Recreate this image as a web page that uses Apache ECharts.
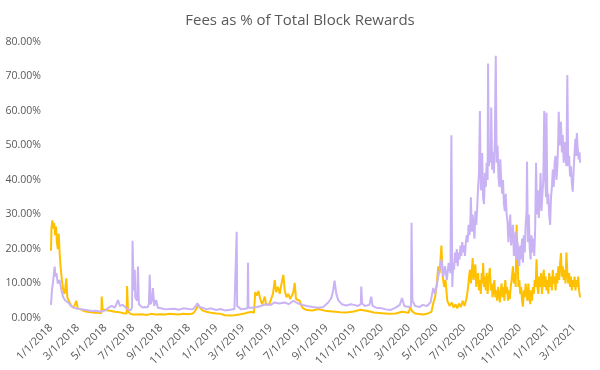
<!DOCTYPE html>
<html>
<head>
<meta charset="utf-8">
<script src="https://cdn.jsdelivr.net/npm/echarts@6/dist/echarts.min.js"></script>
<style>
html,body{margin:0;padding:0;background:#fff;}
#chart{width:600px;height:370px;}
</style>
</head>
<body>
<div id="chart"></div>
<script>
const chartTitle = 'Fees as % of Total Block Rewards';
const startDate = '2018-01-01';
const endDate = '2021-03-14';
const yTicks = [0, 10, 20, 30, 40, 50, 60, 70, 80];

// Gold series (fees as % of block rewards), [date, percent]
const goldSeries = [['2018-01-01',19.5],['2018-01-02',26],['2018-01-04',28.3],['2018-01-06',26],['2018-01-08',27.5],['2018-01-10',24],['2018-01-12',26.5],['2018-01-14',22],['2018-01-16',20],['2018-01-18',24.5],['2018-01-20',19],['2018-01-22',15],['2018-01-25',11],['2018-01-28',8],['2018-01-31',7],['2018-02-04',11.5],['2018-02-06',6],['2018-02-09',5],['2018-02-12',4.5],['2018-02-15',3.5],['2018-02-20',3],['2018-02-24',3.2],['2018-02-26',5],['2018-03-01',2.8],['2018-03-08',2.5],['2018-03-15',2],['2018-03-22',1.8],['2018-03-30',1.7],['2018-04-08',1.5],['2018-04-15',1.5],['2018-04-22',1.4],['2018-04-23',6.2],['2018-04-25',2.5],['2018-05-01',2.3],['2018-05-08',2.2],['2018-05-15',2],['2018-05-22',1.8],['2018-06-01',1.7],['2018-06-10',1.4],['2018-06-17',1.3],['2018-06-18',9.3],['2018-06-20',2],['2018-06-25',1.2],['2018-07-01',1],['2018-07-10',1],['2018-07-20',1.1],['2018-08-01',0.9],['2018-08-10',1.2],['2018-08-20',1],['2018-09-01',1.1],['2018-09-10',1],['2018-09-20',1.2],['2018-10-01',1.1],['2018-10-10',1],['2018-10-20',1.2],['2018-11-01',1.1],['2018-11-10',1.3],['2018-11-15',2],['2018-11-20',3.2],['2018-11-22',3.8],['2018-11-26',3],['2018-12-01',2.2],['2018-12-10',1.8],['2018-12-20',1.5],['2019-01-01',1.3],['2019-01-10',1.2],['2019-01-20',0.8],['2019-02-01',0.7],['2019-02-10',0.8],['2019-02-20',1],['2019-03-01',1.2],['2019-03-10',1.5],['2019-03-20',1.8],['2019-03-25',1.5],['2019-03-28',7.5],['2019-04-01',6.5],['2019-04-04',7.8],['2019-04-08',5.5],['2019-04-12',4],['2019-04-15',5],['2019-04-18',6.2],['2019-04-21',3.8],['2019-04-24',4.2],['2019-04-28',4],['2019-05-02',4.5],['2019-05-06',7],['2019-05-10',11],['2019-05-13',7.5],['2019-05-17',9],['2019-05-21',7],['2019-05-25',10],['2019-05-29',12.5],['2019-06-01',8],['2019-06-05',6],['2019-06-09',7],['2019-06-13',5.5],['2019-06-17',6.5],['2019-06-20',7.5],['2019-06-23',10.2],['2019-06-26',5.5],['2019-06-30',6],['2019-07-04',5],['2019-07-08',3.5],['2019-07-12',2.8],['2019-07-16',2.4],['2019-07-20',2.3],['2019-08-01',2.2],['2019-08-15',2.6],['2019-09-01',2],['2019-09-15',1.9],['2019-10-01',1.7],['2019-10-15',1.6],['2019-11-01',1.9],['2019-11-15',2.4],['2019-12-01',2],['2019-12-15',1.6],['2020-01-01',1.4],['2020-01-15',1.2],['2020-02-01',1.3],['2020-02-15',1.8],['2020-03-01',1.5],['2020-03-04',3.2],['2020-03-08',2],['2020-03-15',1.3],['2020-04-01',1],['2020-04-10',1.2],['2020-04-20',1.8],['2020-04-24',4.3],['2020-04-28',6],['2020-05-02',10],['2020-05-05',15],['2020-05-08',13],['2020-05-12',21],['2020-05-15',12],['2020-05-18',9],['2020-05-21',11],['2020-05-25',5],['2020-05-30',3.5],['2020-06-04',4.5],['2020-06-08',3],['2020-06-12',4],['2020-06-16',2.8],['2020-06-20',4.2],['2020-06-24',3.2],['2020-06-28',5],['2020-07-02',3.5],['2020-07-06',5.5],
['2020-07-08',7],['2020-07-10',9],['2020-07-12',12],['2020-07-14',14],['2020-07-16',10],['2020-07-18',13],['2020-07-20',17.4],['2020-07-22',11],['2020-07-24',14],['2020-07-26',15.5],['2020-07-28',9],['2020-07-30',12],['2020-08-01',13],['2020-08-03',8],['2020-08-05',11],['2020-08-07',7],['2020-08-09',13],['2020-08-11',10],['2020-08-12',15.9],['2020-08-14',9],['2020-08-16',12],['2020-08-18',8],['2020-08-20',13],['2020-08-22',7],['2020-08-24',11],['2020-08-27',14.5],['2020-08-29',8],['2020-08-31',10],['2020-09-02',6],['2020-09-04',9],['2020-09-06',11],['2020-09-08',6],['2020-09-10',8],['2020-09-12',5],['2020-09-14',9],['2020-09-16',7],['2020-09-18',4.5],['2020-09-20',8],['2020-09-22',10],['2020-09-24',6],['2020-09-26',9],['2020-09-28',5],['2020-09-30',11],['2020-10-02',7],['2020-10-04',9],['2020-10-06',5],['2020-10-08',8],['2020-10-10',5.5],['2020-10-12',9],['2020-10-14',11],['2020-10-17',15],['2020-10-19',10],['2020-10-21',13],['2020-10-23',9],['2020-10-25',27],['2020-10-27',18],['2020-10-29',9],['2020-10-31',11],['2020-11-02',7],['2020-11-04',9],['2020-11-06',5],['2020-11-08',3.3],['2020-11-10',8],['2020-11-12',6],['2020-11-14',10],['2020-11-16',7],['2020-11-18',5],['2020-11-20',10],['2020-11-22',6],['2020-11-24',4],['2020-11-26',8],['2020-11-28',5],['2020-11-30',9],['2020-12-02',7],['2020-12-04',11],['2020-12-06',9],['2020-12-08',17],['2020-12-10',9],['2020-12-12',7],['2020-12-14',12],['2020-12-16',9],['2020-12-18',13],['2020-12-20',7],['2020-12-22',11],['2020-12-24',14],['2020-12-26',9],['2020-12-28',12],['2020-12-30',8],['2021-01-01',11],['2021-01-03',7],['2021-01-05',13],['2021-01-07',9],['2021-01-09',12],['2021-01-11',8],['2021-01-13',14],['2021-01-15',10],['2021-01-17',12],['2021-01-19',8],['2021-01-21',13],['2021-01-23',10],['2021-01-25',15],['2021-01-27',11],['2021-01-29',16],['2021-01-31',18.8],['2021-02-02',12],['2021-02-04',15],['2021-02-06',11],['2021-02-08',14],['2021-02-10',10],['2021-02-12',19],['2021-02-14',13],['2021-02-16',10],['2021-02-18',13],['2021-02-20',9],['2021-02-22',12],['2021-02-24',8],['2021-02-26',11],['2021-02-28',9],['2021-03-02',12],['2021-03-04',8],['2021-03-06',11],['2021-03-08',9],['2021-03-10',12],['2021-03-12',8],['2021-03-14',6]];

// Lavender series (fees as % of block rewards), [date, percent]
const lavenderSeries = [['2018-01-01',3.8],['2018-01-03',8],['2018-01-06',11],['2018-01-09',14.9],['2018-01-11',12],['2018-01-13',13],['2018-01-16',10],['2018-01-20',11],['2018-01-24',8],['2018-01-28',6],['2018-02-02',5],['2018-02-08',4.5],['2018-02-14',3.5],['2018-02-20',3],['2018-02-28',2.7],['2018-03-10',2.5],['2018-03-20',2.3],['2018-04-01',2],['2018-04-10',2.1],['2018-04-20',1.8],['2018-05-01',2.2],['2018-05-08',3],['2018-05-15',3.5],['2018-05-22',3],['2018-05-29',5.2],['2018-06-02',3.5],['2018-06-08',3.8],['2018-06-14',3.2],['2018-06-20',2.5],['2018-06-26',2.2],['2018-06-29',3],['2018-06-30',22.4],['2018-07-02',12],['2018-07-03',8],['2018-07-05',14],['2018-07-06',6],['2018-07-10',5],['2018-07-12',14.9],['2018-07-14',4],['2018-07-18',3.5],['2018-07-22',3],['2018-07-27',3.2],['2018-08-02',3],['2018-08-05',4],['2018-08-07',12.5],['2018-08-09',4],['2018-08-12',5],['2018-08-14',8.7],['2018-08-17',3.5],['2018-08-21',5.2],['2018-08-25',3],['2018-09-01',2.8],['2018-09-10',2.5],['2018-09-20',2.6],['2018-10-01',2.7],['2018-10-10',2.4],['2018-10-20',2.8],['2018-11-01',2.6],['2018-11-10',2.5],['2018-11-17',3.5],['2018-11-20',4.3],['2018-11-25',3.2],['2018-12-01',3],['2018-12-10',2.5],['2018-12-20',2.8],['2019-01-01',2.3],['2019-01-10',2.6],['2019-01-20',2.2],['2019-02-01',2.4],['2019-02-10',2.6],['2019-02-14',2.8],['2019-02-15',25],['2019-02-16',3.5],['2019-02-25',2.5],['2019-03-05',2.7],['2019-03-11',2.8],['2019-03-12',16],['2019-03-13',3],['2019-03-20',3],['2019-04-01',3.2],['2019-04-10',3.5],['2019-04-20',4],['2019-05-01',3.8],['2019-05-10',4.5],['2019-05-20',4.2],['2019-06-01',4.5],['2019-06-10',4],['2019-06-20',5],['2019-07-01',4.2],['2019-07-10',3.8],['2019-07-20',3.5],['2019-08-01',3.2],['2019-08-15',3],['2019-08-25',3.2],['2019-09-05',4.5],['2019-09-12',5.8],['2019-09-16',8],['2019-09-19',10.8],['2019-09-23',7],['2019-09-27',5.2],['2019-10-05',4],['2019-10-15',3.6],['2019-10-25',4],['2019-11-01',3.8],['2019-11-10',3.5],['2019-11-16',4],['2019-11-17',9.1],['2019-11-19',4.2],['2019-11-25',3.5],['2019-12-05',3.8],['2019-12-09',6.2],['2019-12-12',3.5],['2019-12-20',3],['2020-01-01',2.8],['2020-01-10',2.5],['2020-01-20',2.3],['2020-02-01',3],['2020-02-10',3.8],['2020-02-15',5.8],['2020-02-20',3.5],['2020-03-01',3.2],['2020-03-06',3.5],['2020-03-07',27.6],['2020-03-09',5],['2020-03-15',3.5],['2020-03-25',3.2],['2020-04-01',3.8],['2020-04-10',3.5],['2020-04-18',4.5],['2020-04-24',8.7],['2020-04-28',7],['2020-05-05',12],['2020-05-08',14],['2020-05-12',17],['2020-05-16',12],['2020-05-20',15],['2020-05-24',11],['2020-05-28',16],['2020-06-01',13],['2020-06-03',53],
['2020-06-05',9],['2020-06-07',16],['2020-06-09',14],['2020-06-11',19],['2020-06-13',16],['2020-06-15',20],['2020-06-17',15],['2020-06-19',19],['2020-06-21',17],['2020-06-23',21],['2020-06-25',18],['2020-06-27',22],['2020-06-29',19],['2020-07-01',21],['2020-07-03',18],['2020-07-05',22],['2020-07-07',24],['2020-07-09',22],['2020-07-11',27],['2020-07-13',24],['2020-07-15',28],['2020-07-16',35],['2020-07-18',25],['2020-07-20',30],['2020-07-22',26],['2020-07-24',23],['2020-07-26',31],['2020-07-28',27],['2020-07-30',32],['2020-08-01',38],['2020-08-03',42],['2020-08-05',60],['2020-08-07',37],['2020-08-09',44],['2020-08-10',47.8],['2020-08-12',35],['2020-08-14',33],['2020-08-16',42],['2020-08-18',38],['2020-08-20',45],['2020-08-22',40],['2020-08-23',73.8],['2020-08-25',44],['2020-08-27',50],['2020-08-29',45],['2020-08-30',61],['2020-09-01',43],['2020-09-03',48],['2020-09-05',42],['2020-09-07',52],['2020-09-09',76],['2020-09-11',45],['2020-09-13',50],['2020-09-15',41],['2020-09-17',38],['2020-09-19',46],['2020-09-21',40],['2020-09-23',36],['2020-09-25',40],['2020-09-27',33],['2020-09-29',31],['2020-10-01',36],['2020-10-03',30],['2020-10-05',28],['2020-10-07',22],['2020-10-09',26],['2020-10-11',30],['2020-10-13',21],['2020-10-15',25],['2020-10-17',27],['2020-10-19',18],['2020-10-21',23],['2020-10-23',25],['2020-10-25',17],['2020-10-27',22],['2020-10-29',19],['2020-10-31',15],['2020-11-02',21],['2020-11-04',17],['2020-11-06',23],['2020-11-08',16],['2020-11-10',24],['2020-11-12',19],['2020-11-14',27],['2020-11-16',31],['2020-11-17',45.3],['2020-11-19',22],['2020-11-21',30],['2020-11-23',20],['2020-11-25',17],['2020-11-27',24],['2020-11-29',19],['2020-12-01',23],['2020-12-03',18],['2020-12-05',26],['2020-12-07',45],['2020-12-09',30],['2020-12-11',37],['2020-12-13',29],['2020-12-15',34],['2020-12-17',42],['2020-12-19',31],['2020-12-21',36],['2020-12-23',40],['2020-12-25',60],['2020-12-27',41],['2020-12-29',35],['2020-12-30',59.5],['2021-01-01',33],['2021-01-03',36],['2021-01-05',30],['2021-01-07',27],['2021-01-09',35],['2021-01-11',38],['2021-01-13',43],['2021-01-15',38],['2021-01-17',45],['2021-01-19',47],['2021-01-21',40],['2021-01-23',44],['2021-01-25',52],['2021-01-26',59.8],['2021-01-28',50],['2021-01-31',56.9],['2021-02-02',48],['2021-02-04',53],['2021-02-06',45],['2021-02-08',51],['2021-02-10',47],['2021-02-12',44],['2021-02-14',70.4],['2021-02-16',44],['2021-02-18',47],['2021-02-20',41],['2021-02-22',44],['2021-02-24',39],['2021-02-26',36.6],['2021-02-28',43],['2021-03-02',48],['2021-03-04',52],['2021-03-06',47],['2021-03-07',53.6],['2021-03-09',49],['2021-03-11',46],['2021-03-13',48],['2021-03-14',45]];

// Daily category axis
function buildDays(a, b) {
  const out = [];
  let t = Date.parse(a + 'T00:00:00Z');
  const end = Date.parse(b + 'T00:00:00Z');
  while (t <= end) {
    out.push(new Date(t).toISOString().slice(0, 10));
    t += 86400000;
  }
  return out;
}
const days = buildDays(startDate, endDate);

function isLabelDay(v) {
  const m = +v.slice(5, 7), d = +v.slice(8, 10);
  return d === 1 && m % 2 === 1;
}
function fmtDate(v) {
  return (+v.slice(5, 7)) + '/' + (+v.slice(8, 10)) + '/' + v.slice(0, 4);
}

const chart = echarts.init(document.getElementById('chart'), null, { renderer: 'canvas' });
chart.setOption({
  animation: false,
  backgroundColor: '#ffffff',
  title: {
    text: chartTitle,
    left: 'center',
    top: 8,
    textStyle: { fontFamily: 'Open Sans', fontSize: 15, fontWeight: 'normal', color: '#595959' }
  },
  grid: { left: 51, right: 20, top: 42, bottom: 52, containLabel: false },
  xAxis: {
    type: 'category',
    data: days,
    boundaryGap: false,
    axisLine: { show: false },
    axisTick: { show: false },
    splitLine: { show: false },
    axisLabel: {
      interval: function (i, v) { return isLabelDay(v); },
      formatter: fmtDate,
      rotate: 45,
      margin: 8,
      fontFamily: 'Open Sans',
      fontSize: 11,
      color: '#595959'
    }
  },
  yAxis: {
    type: 'value',
    min: yTicks[0],
    max: yTicks[yTicks.length - 1],
    interval: 10,
    axisLine: { show: false },
    axisTick: { show: false },
    splitLine: { show: false },
    axisLabel: {
      formatter: function (v) { return v.toFixed(2) + '%'; },
      margin: 10,
      fontFamily: 'Open Sans',
      fontSize: 10.5,
      color: '#595959'
    }
  },
  series: [
    {
      name: 'Gold', type: 'line', data: goldSeries, showSymbol: false, symbol: 'none',
      lineStyle: { color: '#FFC000', width: 2 }, itemStyle: { color: '#FFC000' }, z: 2
    },
    {
      name: 'Lavender', type: 'line', data: lavenderSeries, showSymbol: false, symbol: 'none',
      lineStyle: { color: '#C9B3F4', width: 2 }, itemStyle: { color: '#C9B3F4' }, z: 3
    }
  ]
});
</script>
</body>
</html>
